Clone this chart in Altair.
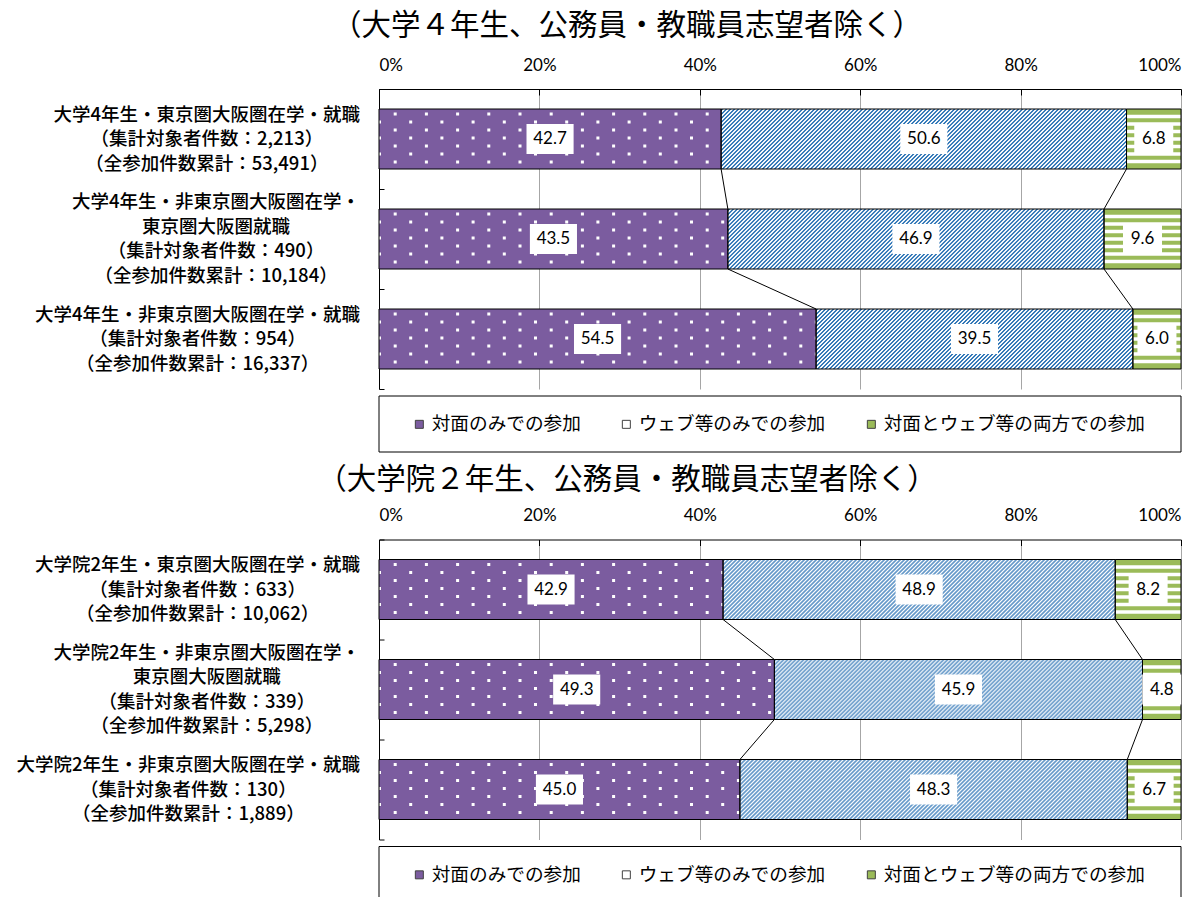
import altair as alt
import pandas as pd

# ---------------- data ----------------
SERIES = ["対面のみでの参加", "ウェブ等のみでの参加", "対面とウェブ等の両方での参加"]

P1_TITLE = "（大学４年生、公務員・教職員志望者除く）"
P1_HEAD = ["大学4年生・東京圏大阪圏在学・就職",
           "大学4年生・非東京圏大阪圏在学・\n東京圏大阪圏就職",
           "大学4年生・非東京圏大阪圏在学・就職"]
P1_N = ["2,213", "490", "954"]
P1_TOTAL = ["53,491", "10,184", "16,337"]
P1_FACE = [42.7, 43.5, 54.5]
P1_WEB = [50.6, 46.9, 39.5]
P1_BOTH = [6.8, 9.6, 6.0]

P2_TITLE = "（大学院２年生、公務員・教職員志望者除く）"
P2_HEAD = ["大学院2年生・東京圏大阪圏在学・就職",
           "大学院2年生・非東京圏大阪圏在学・\n東京圏大阪圏就職",
           "大学院2年生・非東京圏大阪圏在学・就職"]
P2_N = ["633", "339", "130"]
P2_TOTAL = ["10,062", "5,298", "1,889"]
P2_FACE = [42.9, 49.3, 45.0]
P2_WEB = [48.9, 45.9, 48.3]
P2_BOTH = [8.2, 4.8, 6.7]

# ---------------- style ----------------
PURPLE = "#7B5C9F"
GREEN = "#9BBB59"
BLUE = "#2E75B6"
GRID = "#A6A6A6"
JP = "Noto Sans CJK JP"
NUM = "Lato"
W, H = 802, 300
CAT_FS = 18.5
CAT_LH = 24.5
LABEL_RIGHT_GAP = 19  # px between label block and plot
PX_PER_UNIT = H / 3

xscale = alt.Scale(domain=[0, 1], nice=False, zero=False)
yscale = alt.Scale(domain=[-0.5, 2.5], reverse=True, nice=False, zero=False)


def em_width(s):
    w = 0.0
    for ch in s:
        if ch in "0123456789":
            w += 0.56
        elif ch == ",":
            w += 0.28
        else:
            w += 1.0
    return w


def panel(title, heads, ns, totals, face, web, both, title_offset):
    rows = []
    for i in range(3):
        vals = [face[i], web[i], both[i]]
        tot = sum(vals)
        start = 0.0
        for s, v in zip(SERIES, vals):
            end = start + v / tot
            lab = f"{v:.1f}"
            rows.append(dict(idx=i, series=s, value=v, start=start, end=end,
                             mid=(start + end) / 2, label=lab,
                             nch=str(len(lab))))
            start = end
    df = pd.DataFrame(rows)
    d_face = df[df.series == SERIES[0]]
    d_web = df[df.series == SERIES[1]]
    d_both = df[df.series == SERIES[2]]

    # category labels (block right-aligned to the axis, lines centred in the block)
    lab_rows = []
    for i in range(3):
        text = f"{heads[i]}\n（集計対象者件数：{ns[i]}）\n（全参加件数累計：{totals[i]}）"
        lines = text.split("\n")
        w = max(em_width(line) for line in lines) * CAT_FS
        lx = -(LABEL_RIGHT_GAP + w / 2) / W
        ly = i - (len(lines) - 1) * CAT_LH / 2 / PX_PER_UNIT
        lab_rows.append(dict(idx=i, text=text, lx=lx, ly=ly))
    dlab = pd.DataFrame(lab_rows)

    # connector lines between bars
    con = []
    for i in range(2):
        a = df[df.idx == i].sort_values("start")
        b = df[df.idx == i + 1].sort_values("start")
        for k in range(2):
            con.append(dict(x=a.end.iloc[k], x2=b.end.iloc[k], y=i, y2=i + 1))
    dcon = pd.DataFrame(con)

    def X(f, axis=None):
        return alt.X(f, type="quantitative", scale=xscale, axis=axis)

    def Y(f, axis=None):
        return alt.Y(f, type="quantitative", scale=yscale, axis=axis)

    main_x_axis = alt.Axis(orient="top", values=[0, 0.2, 0.4, 0.6, 0.8, 1.0],
                           format=".0%", grid=True, gridColor=GRID, gridWidth=1,
                           domain=True, domainColor="black", domainWidth=1,
                           ticks=False, labelFont=NUM, labelFontSize=17,
                           labelColor="black", labelPadding=15, title=None)
    main_y_axis = alt.Axis(orient="left", domain=True, domainColor="black",
                           ticks=False, labels=False, grid=False, title=None,
                           values=[-0.5, 2.5])
    tick_x_axis = alt.Axis(orient="bottom", offset=-H, values=[0, 0.2, 0.4, 0.6, 0.8, 1.0],
                           labels=False, domain=False, grid=False, ticks=True,
                           tickSize=6, tickColor="black", title=None)
    tick_y_axis = alt.Axis(orient="right", offset=-W, values=[-0.5, 0.5, 1.5, 2.5],
                           labels=False, domain=False, grid=False, ticks=True,
                           tickSize=5, tickColor="black", title=None)

    legend = alt.Legend(orient="none", legendX=31, legendY=325.5, direction="horizontal",
                        title=None, padding=0, strokeColor="transparent",
                        symbolType="square", symbolSize=64, symbolStrokeColor="#404040",
                        symbolStrokeWidth=1, labelFont=JP, labelFontSize=18.67,
                        labelColor="black", labelLimit=500, columnPadding=36,
                        labelOffset=3, cornerRadius=0)

    def yb(c):
        return c.transform_calculate(y0="datum.idx - 0.3", y1="datum.idx + 0.3")

    base = yb(alt.Chart(df)).mark_rect().encode(
        x=X("start", main_x_axis), x2="end",
        y=Y("y0", main_y_axis), y2="y1",
        color=alt.Color("series:N", scale=alt.Scale(domain=SERIES, range=[PURPLE, "white", GREEN]),
                        legend=legend, sort=SERIES),
    )

    # legend frame
    frame = alt.Chart(pd.DataFrame({"k": [0]})).mark_rect(
        fill="white", stroke="black", strokeWidth=1).encode(
        x=alt.value(0), x2=alt.value(W), y=alt.value(H + 7), y2=alt.value(H + 63))

    layers = [frame, base]
    # white dots on purple
    for r in range(7):
        layers.append(alt.Chart(d_face).mark_rule(
            color="white", strokeWidth=3, strokeDash=[3, 28.2],
            strokeDashOffset=16.5 if r % 2 == 0 else 1.0, yOffset=-25 + 8 * r
        ).encode(x=X("start"), x2="end", y=Y("idx")))
    # diagonal hatch on the web segment
    for k in range(60):
        layers.append(alt.Chart(d_web).mark_rule(
            color=BLUE, strokeWidth=1, strokeDash=[2, 2],
            strokeDashOffset=k % 4, yOffset=-29.5 + k
        ).encode(x=X("start"), x2="end", y=Y("idx")))
    # horizontal stripes on green
    for r in range(7):
        layers.append(alt.Chart(d_both).mark_rule(
            color="white", strokeWidth=3.5, yOffset=-22.5 + 7.5 * r
        ).encode(x=X("start"), x2="end", y=Y("idx")))
    # borders (carry inward tick axes)
    layers.append(yb(alt.Chart(df)).mark_rect(fillOpacity=0, stroke="black", strokeWidth=1).encode(
        x=X("start", tick_x_axis), x2="end", y=Y("y0", tick_y_axis), y2="y1"))
    # connectors
    layers.append(alt.Chart(dcon).transform_calculate(
        ya="datum.y + 0.3", yb="datum.y2 - 0.3").mark_rule(color="black", strokeWidth=1).encode(
        x=X("x"), x2="x2", y=Y("ya"), y2="yb"))
    # white label boxes
    p3 = "M-1.3,-1H1.3V1H-1.3Z"
    p4 = "M-1.57,-1H1.57V1H-1.57Z"
    layers.append(alt.Chart(df).mark_point(filled=True, color="white", opacity=1, size=900,
                                           strokeWidth=0).encode(
        x=X("mid"), y=Y("idx"),
        shape=alt.Shape("nch:N", scale=alt.Scale(domain=["3", "4"], range=[p3, p4]), legend=None)))
    layers.append(alt.Chart(df).mark_text(font=NUM, fontSize=17, color="black",
                                          align="center", baseline="middle").encode(
        x=X("mid"), y=Y("idx"), text="label:N"))
    # category labels
    layers.append(alt.Chart(dlab).mark_text(font=JP, fontSize=CAT_FS, fontWeight=500,
                                            color="black", align="center", baseline="middle",
                                            lineBreak="\n", lineHeight=CAT_LH).encode(
        x=X("lx"), y=Y("ly"), text="text:N"))

    return alt.layer(*layers).resolve_axis(x="independent", y="independent").properties(
        width=W, height=H,
        title=alt.TitleParams(title, font=JP, fontSize=29.5, fontWeight="normal", color="black",
                              anchor="middle", offset=title_offset, dx=-153),
    )


p1 = panel(P1_TITLE, P1_HEAD, P1_N, P1_TOTAL, P1_FACE, P1_WEB, P1_BOTH, 14.5)
p2 = panel(P2_TITLE, P2_HEAD, P2_N, P2_TOTAL, P2_FACE, P2_WEB, P2_BOTH, 11.5)

chart = alt.vconcat(p1, p2, spacing=11.5).resolve_scale(
    color="independent", x="independent", y="independent", shape="independent"
).configure_view(stroke=None).properties(
    background="white", padding={"left": 16, "top": 11, "right": 5, "bottom": 0}
)

chart.save("out.html", embed_options={"renderer": "svg", "actions": False})
